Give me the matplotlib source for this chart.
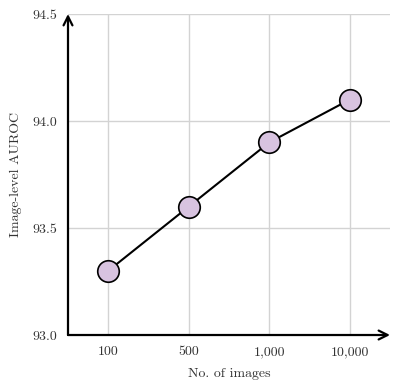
import matplotlib.pyplot as plt

plt.rcParams['font.family'] = 'serif'
plt.rcParams['font.serif'] = ['cmr10']
plt.rcParams['axes.formatter.use_mathtext'] = True

n_images = ['100', '500', '1,000', '10,000']
auroc = [93.3, 93.6, 93.9, 94.1]
y_ticks = [93.0, 93.5, 94.0, 94.5]

fig = plt.figure(figsize=(4.0, 3.91), dpi=100)
ax = fig.add_axes([0.17, 0.1432, 0.805, 0.821])

x = list(range(len(n_images)))
ax.plot(x, auroc, color='black', lw=1.5, marker='o', markersize=15.5,
        markerfacecolor='#d8c3e0', markeredgecolor='black', markeredgewidth=1.2, zorder=3)

ax.set_xlim(-0.5, 3.5)
ax.set_ylim(93.0, 94.5)
ax.set_xticks(x)
ax.set_xticklabels(n_images)
ax.set_yticks(y_ticks)
ax.set_yticklabels(['%.1f' % v for v in y_ticks])
ax.tick_params(length=0, labelsize=10, labelcolor='#333333', pad=8)
ax.grid(True, color='#d3d3d3', lw=1.0)
ax.set_axisbelow(True)
for s in ax.spines.values():
    s.set_visible(False)

ax.annotate('', xy=(0, 1), xytext=(0, 0), xycoords='axes fraction',
            arrowprops=dict(arrowstyle='->', lw=1.6, color='black', mutation_scale=16,
                            shrinkA=0, shrinkB=0))
ax.annotate('', xy=(1, 0), xytext=(0, 0), xycoords='axes fraction',
            arrowprops=dict(arrowstyle='->', lw=1.6, color='black', mutation_scale=16,
                            shrinkA=0, shrinkB=0))

ax.set_xlabel('No. of images', fontsize=10, color='#333333', labelpad=7)
ax.set_ylabel('Image-level AUROC', fontsize=10, color='#333333', labelpad=7)

fig.savefig('out.png', dpi=100)
